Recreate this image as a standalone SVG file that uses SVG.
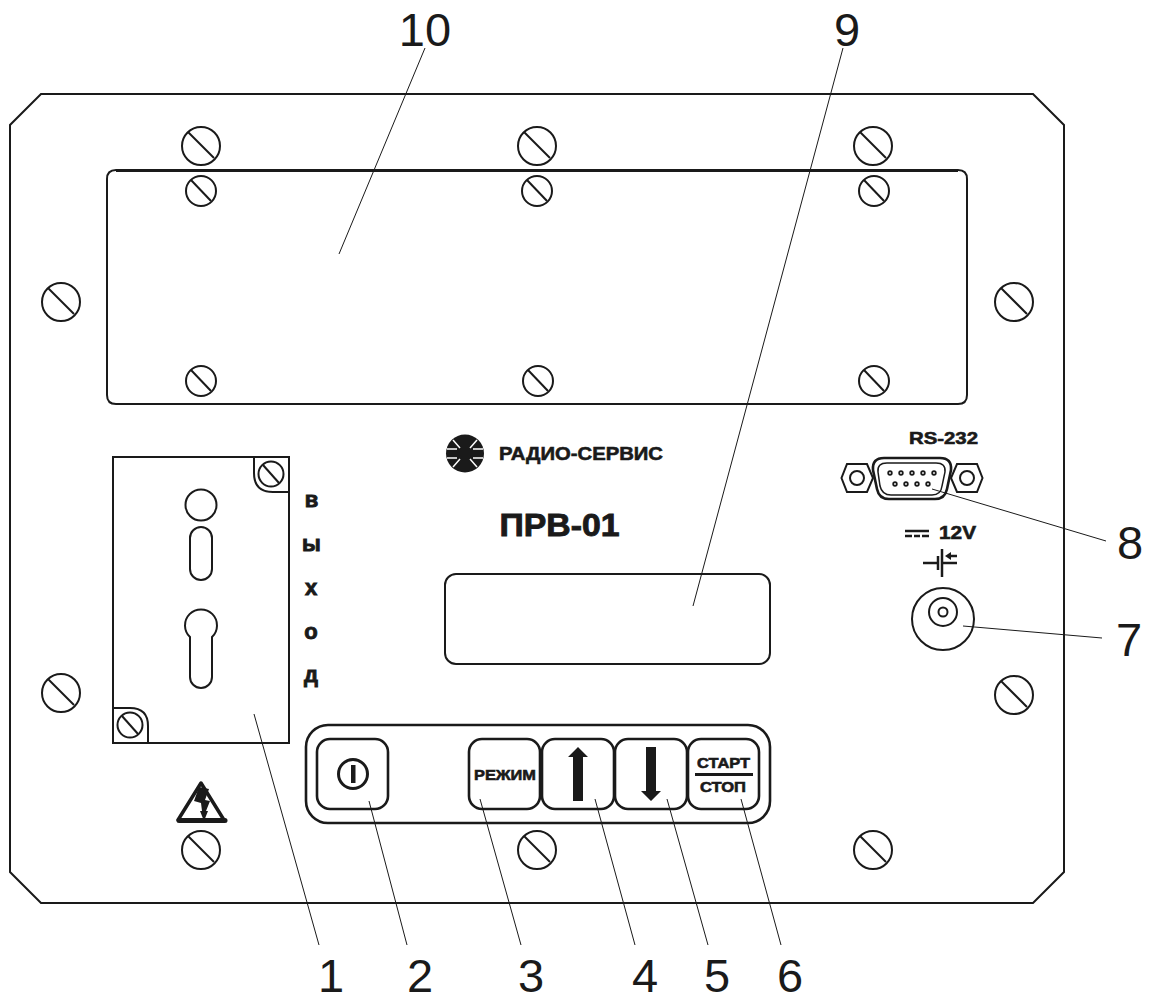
<svg xmlns="http://www.w3.org/2000/svg" width="1151" height="995" viewBox="0 0 1151 995">
<style>
.o{fill:none;stroke:#1a1a1a;stroke-width:2}
.t{fill:none;stroke:#1a1a1a;stroke-width:2.6}
.l{fill:none;stroke:#1a1a1a;stroke-width:1}
.f{fill:#1a1a1a}
.n{font-family:"Liberation Sans",Arial,sans-serif;font-size:47px;fill:#1a1a1a;text-anchor:middle}
.b{font-family:"Liberation Sans",Arial,sans-serif;font-weight:bold;fill:#1a1a1a;stroke:#1a1a1a;stroke-width:.6;text-anchor:middle}
</style>
<defs>
<g id="sL"><circle r="19" class="o"/><line x1="-13" y1="-14" x2="13" y2="12" class="o"/></g>
<g id="sS"><circle r="15" class="o"/><line x1="-10" y1="-11" x2="10" y2="10" class="o"/></g>
<g id="sT"><circle r="12.500" class="o"/><line x1="-8" y1="-9" x2="8" y2="9" class="o"/></g>
</defs>
<rect width="1151" height="995" fill="#fff"/>
<g id="panel">
<path class="o" d="M41 94H1033L1064 125V872L1033 903H41L10 872V125Z"/>
<use href="#sL" x="201" y="146"/><use href="#sL" x="537" y="146"/><use href="#sL" x="873" y="146"/>
<use href="#sL" x="61" y="302"/><use href="#sL" x="1014" y="302"/>
<use href="#sL" x="61" y="693"/><use href="#sL" x="1014" y="695"/>
<use href="#sL" x="201" y="850"/><use href="#sL" x="537" y="850"/><use href="#sL" x="873" y="850"/>
</g>
<g id="node-10">
<path class="o" d="M116 170H958Q967 170 967 179V395Q967 404 958 404H116Q107 404 107 395V179Q107 170 116 170Z"/>
<path d="M116 170.500H958" fill="none" stroke="#1a1a1a" stroke-width="3"/>
<use href="#sS" x="201" y="191"/><use href="#sS" x="537" y="191"/><use href="#sS" x="874" y="191"/>
<use href="#sS" x="201" y="381"/><use href="#sS" x="538" y="381"/><use href="#sS" x="874" y="381"/>
</g>
<g id="node-1">
<rect x="113" y="457" width="176" height="286" class="o"/>
<path class="o" d="M254 457V473Q254 492 273 492H289"/>
<use href="#sT" x="271" y="474"/>
<path class="o" d="M113 708H130Q148 708 148 726V743"/>
<use href="#sT" x="130" y="725"/>
<circle cx="201" cy="505" r="15.500" class="o"/>
<rect x="190" y="527" width="22" height="53" rx="11" class="o"/>
<path class="o" d="M190 637A16 16 0 1 1 212 637V677A11 11 0 0 1 190 677Z"/>
</g>
<g id="vyhod" class="b" font-size="22" style="stroke-width:.9">
<text x="311.500" y="507">в</text><text x="311.500" y="551">ы</text><text x="311" y="595">х</text><text x="311" y="639">о</text><text x="311" y="682">д</text>
</g>
<g id="warning">
<path d="M201 783L224 820H178Z" fill="none" stroke="#1a1a1a" stroke-width="3.500" stroke-linejoin="round"/>
<path d="M179 820.500H225" stroke="#1a1a1a" stroke-width="5" stroke-linecap="round"/>
<path class="f" d="M199 787L209 789L205 800L210 801L206 811L208 811L204 821L200 811L202 811L201 803L194 801Z"/>
</g>
<g id="logo">
<circle cx="465" cy="453.500" r="19" class="f"/>
<g stroke="#fff" stroke-width="1.500"><line x1="447" y1="449" x2="457" y2="449"/><line x1="447" y1="458" x2="457" y2="458"/><line x1="483" y1="449" x2="473" y2="449"/><line x1="483" y1="458" x2="473" y2="458"/><line x1="453" y1="440" x2="460" y2="448"/><line x1="477" y1="440" x2="470" y2="448"/><line x1="453" y1="467" x2="460" y2="459"/><line x1="477" y1="467" x2="470" y2="459"/></g>
<text class="b" x="581" y="459.500" font-size="19" textLength="164" lengthAdjust="spacingAndGlyphs">РАДИО-СЕРВИС</text>
</g>
<text id="title" class="b" x="559.500" y="536" font-size="32" textLength="120" lengthAdjust="spacingAndGlyphs" style="stroke-width:.9">ПРВ-01</text>
<g id="node-9"><rect x="445" y="574" width="325" height="90" rx="11" class="o"/></g>
<g id="keypad">
<rect x="306" y="725" width="464" height="98" rx="22" class="t"/>
<g id="node-2"><rect x="317" y="739" width="71" height="70" rx="13" class="t"/>
<circle cx="353" cy="774" r="14.500" fill="none" stroke="#1a1a1a" stroke-width="3"/><rect x="351" y="765" width="4.500" height="18" class="f"/></g>
<g id="node-3"><rect x="469" y="739" width="71" height="70" rx="13" class="t"/><text class="b" x="505" y="780" font-size="15" textLength="62" lengthAdjust="spacingAndGlyphs">РЕЖИМ</text></g>
<g id="node-4"><rect x="542" y="739" width="72" height="70" rx="13" class="t"/><path class="f" d="M578 747L588 757H583V801H573V757H568Z"/></g>
<g id="node-5"><rect x="615" y="739" width="72" height="70" rx="13" class="t"/><path class="f" d="M646 747H656V791H661L651 801L641 791H646Z"/></g>
<g id="node-6"><rect x="688" y="739" width="71" height="70" rx="13" class="t"/>
<text class="b" x="723.500" y="768" font-size="14.500" textLength="53" lengthAdjust="spacingAndGlyphs">СТАРТ</text><rect x="695" y="773" width="58" height="3" class="f"/><text class="b" x="723" y="791.500" font-size="14.500" textLength="46" lengthAdjust="spacingAndGlyphs">СТОП</text></g>
</g>
<g id="node-8">
<text class="b" x="943.500" y="444" font-size="17" textLength="69" lengthAdjust="spacingAndGlyphs">RS-232</text>
<path class="o" d="M847 464H867L873 478L867 492H847L841.500 478Z"/><circle cx="857" cy="478" r="7" class="o"/>
<path class="o" d="M957 464H977L982.500 478L977 492H957L951 478Z"/><circle cx="967" cy="478" r="7" class="o"/>
<path d="M884 458H940Q952 458 951 470L947 489Q945 499 935 499H889Q879 499 877 489L873 470Q872 458 884 458Z" fill="#fff" stroke="#1a1a1a" stroke-width="2.600"/>
<path d="M887 463H936Q946 463 945 472L942 486Q941 495 932 495H891Q882 495 880 486L878 472Q877 463 887 463Z" fill="none" stroke="#1a1a1a" stroke-width="1.500"/>
<g fill="none" stroke="#1a1a1a" stroke-width="1.800">
<circle cx="890" cy="473" r="1.800"/><circle cx="901" cy="473" r="1.800"/><circle cx="912" cy="473" r="1.800"/><circle cx="923" cy="473" r="1.800"/><circle cx="934" cy="473" r="1.800"/>
<circle cx="895" cy="484" r="1.800"/><circle cx="906" cy="484" r="1.800"/><circle cx="917" cy="484" r="1.800"/><circle cx="928" cy="484" r="1.800"/></g>
</g>
<g id="node-7">
<g stroke="#1a1a1a" stroke-width="2.500"><line x1="905" y1="531" x2="929" y2="531"/><line x1="905" y1="536" x2="912" y2="536"/><line x1="914" y1="536" x2="920" y2="536"/><line x1="922" y1="536" x2="929" y2="536"/></g>
<text class="b" x="957.500" y="539" font-size="19" textLength="37" lengthAdjust="spacingAndGlyphs">12V</text>
<g stroke="#1a1a1a" fill="none" stroke-width="2.500"><line x1="923" y1="563" x2="938" y2="563"/><line x1="938" y1="556" x2="938" y2="570"/><line x1="942" y1="549" x2="942" y2="577"/><line x1="942" y1="563" x2="957" y2="563"/><line x1="948" y1="556" x2="957" y2="556"/></g>
<path class="f" d="M945 556L951 552V560Z"/>
<circle cx="943" cy="619" r="31" class="o"/><circle cx="943" cy="612" r="14" class="o"/><circle cx="943" cy="612" r="4.500" class="o"/>
</g>
<g id="connectors" class="l">
<line x1="254" y1="714" x2="319" y2="945"/>
<line x1="369" y1="801" x2="407" y2="945"/>
<line x1="480" y1="799" x2="521" y2="945"/>
<line x1="595" y1="799" x2="635" y2="945"/>
<line x1="667" y1="799" x2="708" y2="945"/>
<line x1="741" y1="799" x2="781" y2="945"/>
<line x1="963" y1="626" x2="1102" y2="638"/>
<line x1="932" y1="489" x2="1106" y2="541"/>
<line x1="693" y1="606" x2="843" y2="48"/>
<line x1="339" y1="254" x2="425" y2="48"/>
</g>
<g id="labels">
<text class="n" x="331" y="992">1</text><text class="n" x="420" y="992">2</text><text class="n" x="531" y="992">3</text><text class="n" x="645" y="992">4</text><text class="n" x="717" y="992">5</text><text class="n" x="790" y="992">6</text>
<text class="n" x="1129" y="656">7</text><text class="n" x="1130" y="559">8</text><text class="n" x="847" y="46">9</text><text class="n" x="425" y="46">10</text>
</g>
</svg>
